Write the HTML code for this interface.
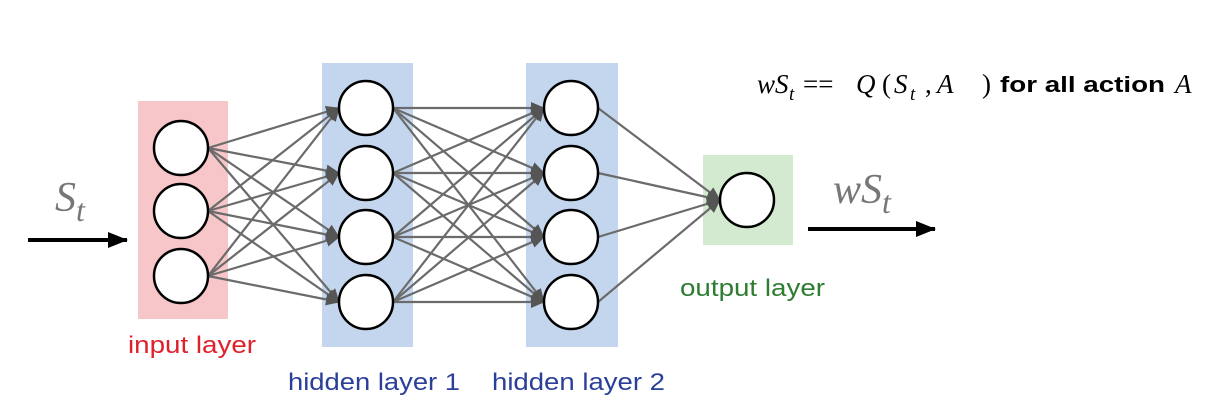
<!DOCTYPE html>
<html><head><meta charset="utf-8"><style>
html,body{margin:0;padding:0;background:#fff;}
svg{display:block;}
</style></head><body>
<svg width="1207" height="407" viewBox="0 0 1207 407" xmlns="http://www.w3.org/2000/svg">
<defs>
<marker id="a" markerWidth="14" markerHeight="14" refX="13" refY="7" orient="auto" markerUnits="userSpaceOnUse"><path d="M0,1 L14,7 L0,13 Z" fill="#555"/></marker>
<marker id="b" markerWidth="20" markerHeight="16" refX="19" refY="8" orient="auto" markerUnits="userSpaceOnUse"><path d="M0,0 L20,8 L0,16 Z" fill="#000"/></marker>
</defs>
<rect x="138" y="101" width="90" height="218" fill="#f6c6c8"/>
<rect x="322" y="63" width="91" height="284" fill="#c3d6ee"/>
<rect x="526" y="63" width="92" height="284" fill="#c3d6ee"/>
<rect x="703" y="155" width="90" height="90" fill="#d4ead0"/>
<g stroke="#6b6b6b" stroke-width="2.2" marker-end="url(#a)">
<line x1="208" y1="148" x2="339" y2="108"/><line x1="208" y1="148" x2="339" y2="173"/><line x1="208" y1="148" x2="339" y2="237"/><line x1="208" y1="148" x2="339" y2="302"/>
<line x1="208" y1="211" x2="339" y2="108"/><line x1="208" y1="211" x2="339" y2="173"/><line x1="208" y1="211" x2="339" y2="237"/><line x1="208" y1="211" x2="339" y2="302"/>
<line x1="208" y1="276" x2="339" y2="108"/><line x1="208" y1="276" x2="339" y2="173"/><line x1="208" y1="276" x2="339" y2="237"/><line x1="208" y1="276" x2="339" y2="302"/>
<line x1="393" y1="108" x2="544" y2="108"/><line x1="393" y1="108" x2="544" y2="173"/><line x1="393" y1="108" x2="544" y2="237"/><line x1="393" y1="108" x2="544" y2="302"/>
<line x1="393" y1="173" x2="544" y2="108"/><line x1="393" y1="173" x2="544" y2="173"/><line x1="393" y1="173" x2="544" y2="237"/><line x1="393" y1="173" x2="544" y2="302"/>
<line x1="393" y1="237" x2="544" y2="108"/><line x1="393" y1="237" x2="544" y2="173"/><line x1="393" y1="237" x2="544" y2="237"/><line x1="393" y1="237" x2="544" y2="302"/>
<line x1="393" y1="302" x2="544" y2="108"/><line x1="393" y1="302" x2="544" y2="173"/><line x1="393" y1="302" x2="544" y2="237"/><line x1="393" y1="302" x2="544" y2="302"/>
<line x1="598" y1="108" x2="720" y2="200"/><line x1="598" y1="173" x2="720" y2="200"/><line x1="598" y1="237" x2="720" y2="200"/><line x1="598" y1="302" x2="720" y2="200"/>
</g>
<g fill="#fff" stroke="#000" stroke-width="2.5">
<circle cx="181" cy="148" r="27"/><circle cx="181" cy="211" r="27"/><circle cx="181" cy="276" r="27"/>
<circle cx="366" cy="108" r="27"/><circle cx="366" cy="173" r="27"/><circle cx="366" cy="237" r="27"/><circle cx="366" cy="302" r="27"/>
<circle cx="571" cy="108" r="27"/><circle cx="571" cy="173" r="27"/><circle cx="571" cy="237" r="27"/><circle cx="571" cy="302" r="27"/>
<circle cx="747" cy="200" r="27"/>
</g>
<line x1="28" y1="240" x2="127" y2="240" stroke="#000" stroke-width="4" marker-end="url(#b)"/>
<line x1="808" y1="229" x2="935" y2="229" stroke="#000" stroke-width="4" marker-end="url(#b)"/>
<g font-family="Liberation Serif, serif" font-style="italic" fill="#777">
<text x="55" y="211" font-size="42">S<tspan font-size="32" dy="10">t</tspan></text>
<text x="833" y="203" font-size="42">wS<tspan font-size="32" dy="10">t</tspan></text>
</g>
<g font-family="Liberation Sans, sans-serif" font-size="24">
<text x="128" y="353" fill="#e0202a" textLength="128" lengthAdjust="spacingAndGlyphs">input layer</text>
<text x="288" y="390" fill="#2a3f9a" textLength="172" lengthAdjust="spacingAndGlyphs">hidden layer 1</text>
<text x="492" y="390" fill="#2a3f9a" textLength="173" lengthAdjust="spacingAndGlyphs">hidden layer 2</text>
<text x="680" y="296" fill="#2e7d32" textLength="145" lengthAdjust="spacingAndGlyphs">output layer</text>
</g>
<g font-family="Liberation Serif, serif" font-size="27" fill="#000">
<text x="757" y="93" font-style="italic">wS</text>
<text x="789" y="100" font-style="italic" font-size="19">t</text>
<text x="803" y="93">==</text>
<text x="856" y="93" font-style="italic">Q</text>
<text x="882" y="93">(</text>
<text x="894" y="93" font-style="italic">S</text>
<text x="910" y="100" font-style="italic" font-size="19">t</text>
<text x="925" y="93">,</text>
<text x="937" y="93" font-style="italic">A</text>
<text x="982" y="93">)</text>
<text x="1000" y="92" font-family="Liberation Sans, sans-serif" font-weight="bold" font-size="22" textLength="165" lengthAdjust="spacingAndGlyphs">for all action</text>
<text x="1175" y="93" font-style="italic">A</text>
</g>
</svg>
</body></html>
